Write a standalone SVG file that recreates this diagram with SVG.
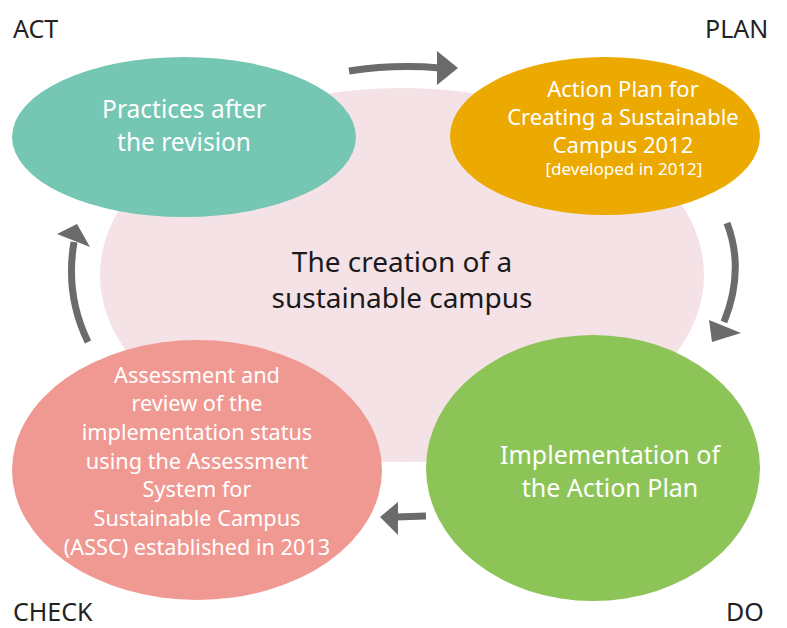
<svg xmlns="http://www.w3.org/2000/svg" width="787" height="628" viewBox="0 0 787 628">
<defs>
<style>
text{font-family:"Noto Sans","Open Sans","Liberation Sans",sans-serif;text-anchor:middle}
.w{fill:#ffffff}
.lbl{fill:#222;font-size:25px;text-anchor:start}
.arr{fill:none;stroke:#6b6b6b;stroke-width:7}
.head{fill:#6b6b6b}
</style>
</defs>
<rect width="787" height="628" fill="#ffffff"/>
<g id="center">
<ellipse cx="402" cy="275" rx="302" ry="187" fill="#f4e2e6"/>
<text x="402" y="272" font-size="28" fill="#1a1a1a">The creation of a</text>
<text x="402" y="308" font-size="28" fill="#1a1a1a">sustainable campus</text>
</g>
<g id="act">
<ellipse cx="184" cy="137" rx="172" ry="80" fill="#76c6b4"/>
<text class="w" x="184" y="118" font-size="24.5">Practices after</text>
<text class="w" x="184" y="151" font-size="24.5">the revision</text>
</g>
<g id="plan">
<ellipse cx="605" cy="136" rx="155" ry="79" fill="#eca900"/>
<text class="w" x="623" y="97" font-size="22">Action Plan for</text>
<text class="w" x="623" y="125" font-size="22">Creating a Sustainable</text>
<text class="w" x="623" y="153" font-size="22">Campus 2012</text>
<text class="w" x="624" y="175" font-size="17">[developed in 2012]</text>
</g>
<g id="do">
<ellipse cx="593" cy="468" rx="167" ry="133" fill="#8dc457"/>
<text class="w" x="610" y="464" font-size="25">Implementation of</text>
<text class="w" x="610" y="497" font-size="25">the Action Plan</text>
</g>
<g id="check">
<ellipse cx="197" cy="470" rx="185" ry="130" fill="#f09993"/>
<text class="w" x="197" y="383" font-size="21.7">Assessment and</text>
<text class="w" x="197" y="411" font-size="21.7">review of the</text>
<text class="w" x="197" y="440" font-size="21.7">implementation status</text>
<text class="w" x="197" y="469" font-size="21.7">using the Assessment</text>
<text class="w" x="197" y="497" font-size="21.7">System for</text>
<text class="w" x="197" y="526" font-size="21.7">Sustainable Campus</text>
<text class="w" x="197" y="555" font-size="21.7">(ASSC) established in 2013</text>
</g>
<g id="labels">
<text class="lbl" x="13" y="38">ACT</text>
<text class="lbl" x="705" y="38">PLAN</text>
<text class="lbl" x="13" y="621">CHECK</text>
<text class="lbl" x="726" y="621">DO</text>
</g>
<g id="connectors">
<path class="arr" d="M349 71 Q395 64 440 68"/>
<polygon class="head" points="437,51 458,68 437,85"/>
<path class="arr" d="M727 223 Q745 270 724 322"/>
<polygon class="head" points="709,320 712,342 741,333"/>
<path class="arr" d="M426 516 L396 517"/>
<polygon class="head" points="398,502 380,517 398,535"/>
<path class="arr" d="M88 342 Q65 295 74 242"/>
<polygon class="head" points="57,234 77,224 90,247"/>
</g>
</svg>
